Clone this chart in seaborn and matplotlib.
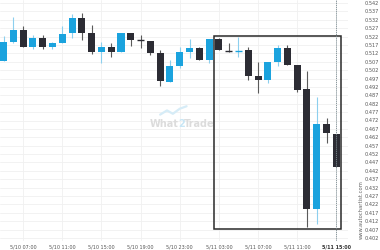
import numpy as np
import pandas as pd
import matplotlib
matplotlib.use("Agg")
import matplotlib.pyplot as plt
import seaborn as sns
from matplotlib.patches import Rectangle

# ---- data (hourly candles, 5/10 05:00 .. 5/11 15:00) ----
opens = [0.5074, 0.5188, 0.5259, 0.5158, 0.5211, 0.5158, 0.5182, 0.5241, 0.5331, 0.5241,
         0.5128, 0.5158, 0.5128, 0.5241, 0.5199, 0.5193, 0.5122, 0.4949, 0.5044, 0.5128,
         0.5152, 0.5080, 0.5205, 0.5134, 0.5132, 0.5140, 0.4985, 0.4961, 0.5068, 0.5152,
         0.5050, 0.4907, 0.4192, 0.4699, 0.4639]
highs = [0.5223, 0.5337, 0.5283, 0.5229, 0.5229, 0.5188, 0.5283, 0.5354, 0.5360, 0.5289,
         0.5188, 0.5182, 0.5241, 0.5241, 0.5229, 0.5193, 0.5140, 0.5080, 0.5158, 0.5205,
         0.5158, 0.5205, 0.5211, 0.5182, 0.5217, 0.5158, 0.5068, 0.5068, 0.5170, 0.5170,
         0.5050, 0.5015, 0.4860, 0.4735, 0.4639]
lows = [0.5074, 0.5182, 0.5158, 0.5146, 0.5146, 0.5146, 0.5182, 0.5211, 0.5199, 0.5116,
        0.5062, 0.5098, 0.5128, 0.5164, 0.5152, 0.5110, 0.4925, 0.4949, 0.5033, 0.5092,
        0.5080, 0.5062, 0.5140, 0.5128, 0.5098, 0.4961, 0.4884, 0.4943, 0.5044, 0.5050,
        0.4890, 0.4085, 0.4103, 0.4586, 0.4443]
closes = [0.5188, 0.5259, 0.5158, 0.5211, 0.5158, 0.5182, 0.5235, 0.5331, 0.5241, 0.5128,
          0.5158, 0.5128, 0.5241, 0.5199, 0.5197, 0.5122, 0.4955, 0.5044, 0.5128, 0.5152,
          0.5080, 0.5205, 0.5140, 0.5132, 0.5134, 0.4985, 0.4961, 0.5068, 0.5152, 0.5050,
          0.4901, 0.4192, 0.4699, 0.4645, 0.4443]

xtick_pos = [2, 6, 10, 14, 18, 22, 26, 30, 34]
xtick_labels = ["5/10 07:00", "5/10 11:00", "5/10 15:00", "5/10 19:00", "5/10 23:00",
                "5/11 03:00", "5/11 07:00", "5/11 11:00", "5/11 15:00"]
ytick_vals = [round(0.402 + 0.005 * i, 3) for i in range(29)]

# pattern box (time index span, price span)
box_x = [21.5, 34.5]
box_y = [0.4073, 0.5223]
current_idx = 34

df = pd.DataFrame({"x": np.arange(len(opens)), "open": opens, "high": highs,
                   "low": lows, "close": closes})
df["up"] = df["close"] >= df["open"]

sns.set_theme(style="white")
plt.rcParams["font.family"] = ["DejaVu Sans"]

fig = plt.figure(figsize=(3.8, 2.5), dpi=100)
ax = fig.add_axes([0.0, 0.036, 0.916, 0.964])

BLUE = "#1ba3de"
BLUE_WICK = "#8ccfee"
DARK = "#2c2c34"
DARK_WICK = "#5a5a5a"

# grid
for v in ytick_vals:
    ax.axhline(v, color="#f0f0f0", lw=0.6, zorder=0)
for p in xtick_pos:
    ax.axvline(p, color="#f0f0f0", lw=0.6, zorder=0)

# watermark
ax.text(17.9, 0.4700, "What", color="#dcdcdc", fontsize=7, fontweight="bold",
        ha="right", va="center", zorder=1)
ax.text(17.9, 0.4700, "2", color="#c8e6f5", fontsize=7, fontweight="bold",
        ha="left", va="center", zorder=1)
ax.text(18.45, 0.4700, "Trade", color="#dcdcdc", fontsize=7, fontweight="bold",
        ha="left", va="center", zorder=1)
ax.plot([16.0, 16.7, 17.3, 18.0, 18.7], [0.4755, 0.4780, 0.4760, 0.4790, 0.4805],
        color="#d6ecf7", lw=1.6, zorder=1)

# wicks
for _, r in df.iterrows():
    ax.vlines(r["x"], r["low"], r["high"], color=BLUE_WICK if r["up"] else DARK_WICK,
              lw=0.8, zorder=2)
# bodies
w = 0.72
for _, r in df.iterrows():
    lo = min(r["open"], r["close"])
    h = abs(r["close"] - r["open"])
    if h < 0.0005:
        ax.hlines(lo, r["x"] - w / 2, r["x"] + w / 2, color=BLUE if r["up"] else DARK,
                  lw=1.0, zorder=3)
    else:
        ax.bar(r["x"], h, bottom=lo, width=w, color=BLUE if r["up"] else DARK,
               edgecolor="none", zorder=3)

# pattern rectangle
ax.add_patch(Rectangle((box_x[0], box_y[0]), box_x[1] - box_x[0], box_y[1] - box_y[0],
                       fill=False, edgecolor="#2a2a2a", lw=1.1, zorder=4))

# current time line
ax.axvline(current_idx, color="#7a8a90", lw=0.6, ls=(0, (1.5, 1)), zorder=5)

ax.set_xlim(-0.36, 35.2)
ax.set_ylim(0.4002, 0.5438)
for s in ax.spines.values():
    s.set_visible(False)

ax.yaxis.tick_right()
ax.set_yticks(ytick_vals)
ax.set_yticklabels([f"{v:.3f}" for v in ytick_vals], fontsize=3.6, color="#555555")
ax.tick_params(axis="y", length=0, pad=12)
ax.set_xticks(xtick_pos)
ax.set_xticklabels(xtick_labels, fontsize=3.5, color="#555555")
ax.get_xticklabels()[-1].set_fontweight("bold")
ax.get_xticklabels()[-1].set_color("#333333")
ax.tick_params(axis="x", length=0, pad=2.5)

fig.text(0.951, 0.16, "www.autochartist.com", rotation=90, fontsize=3.8,
         color="#666666", ha="center", va="center")

fig.savefig("out.png", dpi=100)
